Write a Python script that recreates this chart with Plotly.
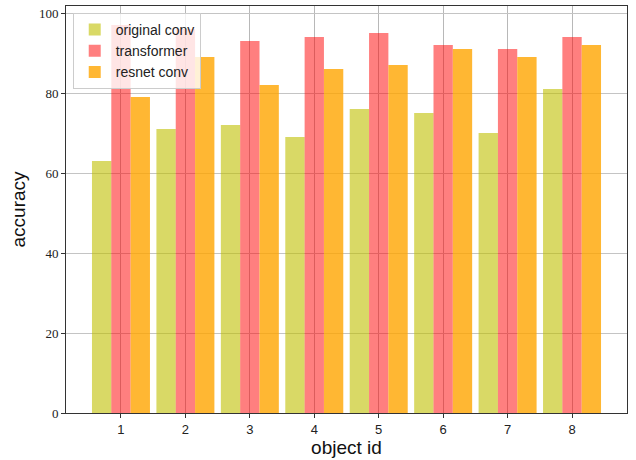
import plotly.graph_objects as go

object_ids = [1, 2, 3, 4, 5, 6, 7, 8]
original_conv = [63, 71, 72, 69, 76, 75, 70, 81]
transformer = [97, 96, 93, 94, 95, 92, 91, 94]
resnet_conv = [79, 89, 82, 86, 87, 91, 89, 92]
y_ticks = [0, 20, 40, 60, 80, 100]

fig = go.Figure()
fig.add_trace(go.Bar(x=object_ids, y=original_conv, name="original conv",
                     marker=dict(color="rgba(191,191,0,0.6)", line=dict(width=0))))
fig.add_trace(go.Bar(x=object_ids, y=transformer, name="transformer",
                     marker=dict(color="rgba(255,0,0,0.5)", line=dict(width=0))))
fig.add_trace(go.Bar(x=object_ids, y=resnet_conv, name="resnet conv",
                     marker=dict(color="rgba(255,165,0,0.8)", line=dict(width=0))))

fig.update_layout(
    width=636, height=460,
    margin=dict(l=66, r=9, t=6, b=47),
    paper_bgcolor="white", plot_bgcolor="white",
    barmode="group", bargap=0.1, bargroupgap=0,
    showlegend=True,
    legend=dict(x=0.012, y=0.983, xanchor="left", yanchor="top",
                bgcolor="rgba(255,255,255,0.8)", bordercolor="#cccccc", borderwidth=1,
                font=dict(family="Liberation Sans, Arial, sans-serif", size=14, color="#222"),
                itemwidth=32, tracegroupgap=0),
    font=dict(family="Liberation Sans, Arial, sans-serif", color="#222"),
)
fig.update_xaxes(
    range=[0.147, 8.853], tickmode="array", tickvals=object_ids,
    ticktext=[str(v) for v in object_ids],
    showgrid=True, gridcolor="#b8b8b8", gridwidth=1,
    ticks="outside", ticklen=4, tickcolor="#333", tickwidth=1,
    showline=True, linecolor="#333", linewidth=1, mirror=True,
    tickfont=dict(family="Liberation Sans, Arial, sans-serif", size=13, color="#222"),
    title=dict(text="object id", font=dict(size=19, color="#111"), standoff=4),
    zeroline=False,
)
fig.update_yaxes(
    range=[0, 101.75], tickmode="array", tickvals=y_ticks,
    ticktext=[str(v) for v in y_ticks],
    showgrid=True, gridcolor="#c4c4c4", gridwidth=1,
    ticks="outside", ticklen=4, tickcolor="#333", tickwidth=1,
    showline=True, linecolor="#333", linewidth=1, mirror=True,
    tickfont=dict(family="Liberation Serif, DejaVu Serif, serif", size=13, color="#222"),
    title=dict(text="accuracy", font=dict(size=19, color="#111"), standoff=8),
    zeroline=False,
)

fig.write_html("out.html", config={"displayModeBar": False},
               post_script="document.body.style.margin='0';")
